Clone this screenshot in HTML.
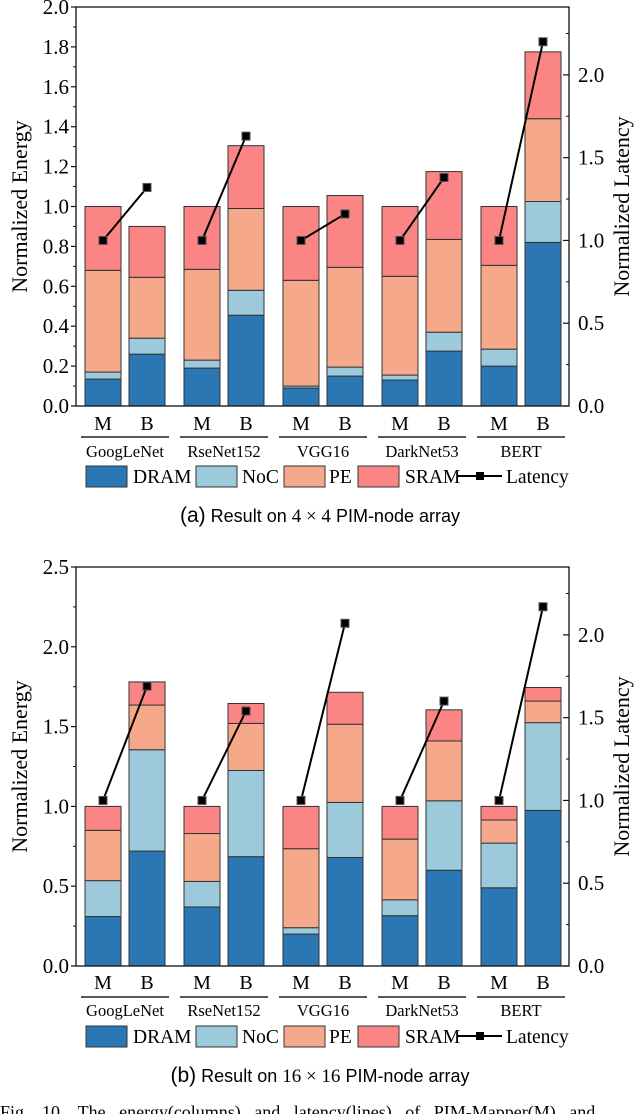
<!DOCTYPE html>
<html><head><meta charset="utf-8"><style>
html,body{margin:0;padding:0;background:#fff;}
svg{display:block;font-family:"Liberation Serif",serif;}
.cap{font-family:"Liberation Sans",sans-serif;}
</style></head><body>
<svg id="fig" width="640" height="1114" viewBox="0 0 640 1114" xmlns="http://www.w3.org/2000/svg"></svg>
<script>
const groups = ["GoogLeNet","RseNet152","VGG16","DarkNet53","BERT"];
const barLabels = ["M","B"];
const seriesNames = ["DRAM","NoC","PE","SRAM"];
const seriesColors = ["#2a77b4","#9ccadb","#f5a98a","#fb8584"];
// chart (a)
const aDRAM = [0.135,0.26,0.19,0.455,0.09,0.15,0.13,0.275,0.2,0.82];
const aNoC  = [0.035,0.08,0.04,0.125,0.01,0.045,0.025,0.095,0.085,0.205];
const aPE   = [0.51,0.305,0.455,0.41,0.53,0.5,0.495,0.465,0.42,0.415];
const aSRAM = [0.32,0.255,0.315,0.315,0.37,0.36,0.35,0.34,0.295,0.335];
const aLat  = [1,1.32,1,1.63,1,1.16,1,1.38,1,2.2];
const aLeftTicks = ["0.0","0.2","0.4","0.6","0.8","1.0","1.2","1.4","1.6","1.8","2.0"];
const aRightTicks = ["0.0","0.5","1.0","1.5","2.0"];
// chart (b)
const bDRAM = [0.31,0.72,0.37,0.685,0.2,0.68,0.315,0.6,0.49,0.975];
const bNoC  = [0.225,0.635,0.16,0.54,0.04,0.345,0.1,0.435,0.28,0.55];
const bPE   = [0.315,0.28,0.3,0.295,0.495,0.49,0.38,0.375,0.145,0.135];
const bSRAM = [0.15,0.145,0.17,0.125,0.265,0.2,0.205,0.195,0.085,0.085];
const bLat  = [1,1.69,1,1.54,1,2.07,1,1.6,1,2.17];
const bLeftTicks = ["0.0","0.5","1.0","1.5","2.0","2.5"];
const bRightTicks = ["0.0","0.5","1.0","1.5","2.0"];

const NS="http://www.w3.org/2000/svg";
const svg=document.getElementById('fig');
function mk(tag,attrs,parent,text){const e=document.createElementNS(NS,tag);for(const k in attrs)e.setAttribute(k,attrs[k]);if(text!==undefined)e.textContent=text;(parent||svg).appendChild(e);return e;}

function chart(o){
  const g=mk('g',{});
  
  
  const L=76,R=569,T=o.top,B=o.bottom;
  const yL=v=>B-(v/o.lmax)*(B-T);
  const yR=v=>B-(v/o.rmax)*(B-T);
  const xBar=i=>85+Math.floor(i/2)*99+(i%2)*44;
  const bw=36;
  const series=[o.d,o.n,o.p,o.s];
  for(let i=0;i<o.d.length;i++){
    let acc=0;
    for(let s=0;s<4;s++){
      const v=series[s][i];
      const r=mk('rect',{x:xBar(i),y:yL(acc+v),width:bw,height:yL(acc)-yL(acc+v),fill:seriesColors[s],stroke:'#333','stroke-width':1},g);
      
      
      acc+=v;
    }
  }
  mk('rect',{x:L,y:T,width:R-L,height:B-T,fill:'none',stroke:'#111','stroke-width':1.3},g);
  o.lt.forEach((t,k)=>{
    const v=parseFloat(t),y=yL(v);
    mk('line',{x1:L-5,x2:L,y1:y,y2:y,stroke:'#111','stroke-width':1.2},g);
    if(k<o.lt.length-1){const ym=yL(v+o.lstep/2);mk('line',{x1:L-3,x2:L,y1:ym,y2:ym,stroke:'#111','stroke-width':1},g);}
    const tx=mk('text',{x:L-7,y:y+7,'text-anchor':'end','font-size':21},g,t);
    
    
  });
  o.rt.forEach((t,k)=>{
    const v=parseFloat(t),y=yR(v);
    mk('line',{x1:R-6,x2:R,y1:y,y2:y,stroke:'#111','stroke-width':1.2},g);
    const ym=yR(v+0.25);if(ym>T)mk('line',{x1:R-3,x2:R,y1:ym,y2:ym,stroke:'#111','stroke-width':1},g);
    const tx=mk('text',{x:R+9,y:y+7,'font-size':21},g,t);
    
    
  });
  const yt=mk('text',{x:0,y:0,'text-anchor':'middle','font-size':22,transform:`translate(27,${(T+B)/2}) rotate(-90)`},g,'Normalized Energy');
  
  
  const yt2=mk('text',{x:0,y:0,'text-anchor':'middle','font-size':22,transform:`translate(629,${(T+B)/2}) rotate(-90)`},g,'Normalized Latency');
  
  
  for(let i=0;i<o.d.length;i++){
    const t=mk('text',{x:xBar(i)+bw/2,y:o.mbY,'text-anchor':'middle','font-size':20},g,barLabels[i%2]);
    
    
  }
  groups.forEach((n,j)=>{
    const x0=81+j*99;
    mk('line',{x1:x0,x2:x0+88,y1:o.ulY,y2:o.ulY,stroke:'#222','stroke-width':1.5},g);
    const t=mk('text',{x:x0+44,y:o.glY,'text-anchor':'middle','font-size':16.5},g,n);
    
    
  });
  for(let j=0;j<groups.length;j++){
    const i0=2*j,i1=2*j+1;
    mk('line',{x1:xBar(i0)+bw/2,y1:yR(o.lat[i0]),x2:xBar(i1)+bw/2,y2:yR(o.lat[i1]),stroke:'#000','stroke-width':2},g);
  }
  o.lat.forEach((v,i)=>{
    const m=mk('rect',{x:xBar(i)+bw/2-4,y:yR(v)-4,width:8,height:8,fill:'#000',stroke:'#555','stroke-width':1},g);
    
    
  });
  const lg=mk('g',{},g);
  
  
  const lx=[86,196,284,358];
  const tx=[133,242,329,405];
  for(let s=0;s<4;s++){
    mk('rect',{x:lx[s],y:o.lgY-10,width:41,height:21,fill:seriesColors[s],stroke:'#333','stroke-width':1},lg);
    mk('text',{x:tx[s],y:o.lgY+7,'font-size':19.5},lg,seriesNames[s]);
  }
  mk('line',{x1:458,x2:502,y1:o.lgY,y2:o.lgY,stroke:'#000','stroke-width':2},lg);
  mk('rect',{x:476,y:o.lgY-4,width:8,height:8,fill:'#000'},lg);
  mk('text',{x:506,y:o.lgY+7,'font-size':19.5},lg,'Latency');
  const c=mk('text',{x:320,y:o.capY,'text-anchor':'middle','font-size':18,class:'cap'},g);
  
  
  mk('tspan',{'font-size':21},c,o.capA);
  mk('tspan',{},c,' Result on ');
  mk('tspan',{'font-family':'Liberation Serif, serif','font-size':19},c,o.capN);
  mk('tspan',{},c,' PIM-node array');
}
chart({name:'chart-a',top:7,bottom:406,lmax:2.0,rmax:2.41,lstep:0.2,d:aDRAM,n:aNoC,p:aPE,s:aSRAM,lat:aLat,lt:aLeftTicks,rt:aRightTicks,mbY:430,ulY:437,glY:457,lgY:476,capY:522,capA:'(a)',capN:'4 × 4'});
chart({name:'chart-b',top:567,bottom:966,lmax:2.5,rmax:2.41,lstep:0.5,d:bDRAM,n:bNoC,p:bPE,s:bSRAM,lat:bLat,lt:bLeftTicks,rt:bRightTicks,mbY:989,ulY:997,glY:1016,lgY:1036,capY:1082,capA:'(b)',capN:'16 × 16'});
const f=mk('text',{x:0,y:1118,'font-size':18,'word-spacing':9},svg,'Fig. 10.  The energy(columns) and latency(lines) of PIM-Mapper(M) and');


</script>
</body></html>
